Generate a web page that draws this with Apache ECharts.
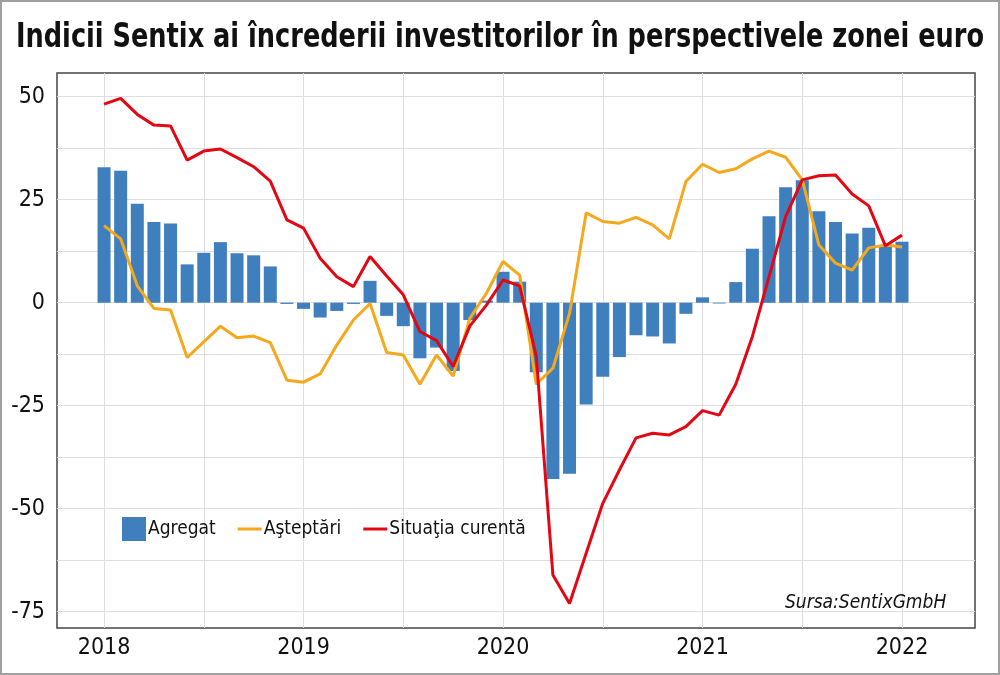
<!DOCTYPE html>
<html>
<head>
<meta charset="utf-8">
<script src="https://cdn.jsdelivr.net/npm/echarts@6/dist/echarts.min.js"></script>
<style>
html, body { margin: 0; padding: 0; background: #fff; }
#chart { width: 1000px; height: 675px; }
</style>
</head>
<body>
<div id="chart"></div>
<script>
// luni: ian 2018 .. ian 2022 (indice 0..48)
var months = [
    '2018-01', '2018-02', '2018-03', '2018-04', '2018-05', '2018-06', '2018-07', '2018-08', '2018-09', '2018-10', '2018-11', '2018-12',
    '2019-01', '2019-02', '2019-03', '2019-04', '2019-05', '2019-06', '2019-07', '2019-08', '2019-09', '2019-10', '2019-11', '2019-12',
    '2020-01', '2020-02', '2020-03', '2020-04', '2020-05', '2020-06', '2020-07', '2020-08', '2020-09', '2020-10', '2020-11', '2020-12',
    '2021-01', '2021-02', '2021-03', '2021-04', '2021-05', '2021-06', '2021-07', '2021-08', '2021-09', '2021-10', '2021-11', '2021-12',
    '2022-01'
];
var agregat = [
    32.9, 32.0, 24.0, 19.6, 19.2, 9.3, 12.1, 14.7, 12.0, 11.5, 8.8, -0.3,
    -1.5, -3.6, -2.0, -0.3, 5.3, -3.2, -5.7, -13.5, -10.9, -16.6, -4.2, 0.5,
    7.5, 5.1, -16.9, -42.8, -41.5, -24.7, -18.0, -13.2, -7.9, -8.2, -9.9, -2.7,
    1.3, -0.2, 5.0, 13.1, 21.0, 28.0, 29.7, 22.2, 19.6, 16.8, 18.2, 14.0,
    14.8
];
var asteptari = [
    18.7, 15.5, 4.1, -1.4, -1.8, -13.3, -9.5, -5.7, -8.5, -8.1, -9.7, -18.8,
    -19.3, -17.3, -10.3, -4.2, -0.2, -12.1, -12.7, -19.8, -12.7, -17.8, -3.8, 2.3,
    10.0, 6.7, -19.8, -15.9, -2.6, 21.8, 19.7, 19.3, 20.7, 18.9, 15.5, 29.4,
    33.6, 31.6, 32.5, 34.9, 36.8, 35.3, 29.8, 14.0, 9.6, 7.9, 13.3, 14.0,
    13.5
];
var situatia = [
    48.2, 49.6, 45.7, 43.1, 42.9, 34.6, 36.8, 37.3, 35.2, 33.0, 29.5, 20.1,
    18.1, 10.8, 6.3, 3.9, 11.2, 6.5, 1.9, -7.0, -9.2, -15.5, -5.7, -0.6,
    5.5, 4.1, -13.0, -66.1, -73.0, -60.8, -48.7, -40.6, -32.8, -31.7, -32.1, -30.1,
    -26.2, -27.3, -19.8, -8.2, 6.3, 20.9, 29.8, 30.8, 31.0, 26.4, 23.5, 13.8,
    16.4
];
var yearTicks = [0, 12, 24, 36, 48];
var yearLabels = ['2018', '2019', '2020', '2021', '2022'];
var halfYearTicks = [0, 6, 12, 18, 24, 30, 36, 42, 48];
var yLabelValues = [-75, -50, -25, 0, 25, 50];
var yGridValues = [-75, -62.5, -50, -37.5, -25, -12.5, 0, 12.5, 25, 37.5, 50];

var titleText = 'Indicii Sentix ai încrederii investitorilor în perspectivele zonei euro';
var fontNarrow = "'Liberation Sans Narrow', 'DejaVu Sans Condensed', 'Noto Sans', sans-serif";
var lineIcon = 'path://M0,0H24V3H0Z';

function pairs(arr) {
    var d = [];
    for (var i = 0; i < arr.length; i++) {
        d.push([i, arr[i]]);
    }
    return d;
}

// latimea titlului: il strangem pe orizontala ca sa incapa ca in original
var titleFont = 'bold 34px ' + fontNarrow;
var ctx = document.createElement('canvas').getContext('2d');
ctx.font = titleFont;
var titleScale = 968 / ctx.measureText(titleText).width;

var chart = echarts.init(document.getElementById('chart'));

var option = {
    backgroundColor: '#fff',
    animation: false,
    title: {
        text: 'Sursa:SentixGmbH',
        left: 780,
        top: 589,
        textStyle: {
            fontFamily: fontNarrow,
            fontStyle: 'italic',
            fontWeight: 'normal',
            fontSize: 19,
            color: '#111'
        }
    },
    graphic: [
        {
            type: 'rect',
            shape: {x: 1, y: 1, width: 998, height: 673},
            style: {fill: 'none', stroke: '#a0a0a0', lineWidth: 2},
            silent: true
        },
        {
            type: 'text',
            x: 16,
            y: 21,
            scaleX: titleScale,
            style: {
                text: titleText,
                font: titleFont,
                fill: '#111',
                verticalAlign: 'top'
            }
        }
    ],
    legend: {
        left: 117,
        top: 512,
        itemWidth: 24,
        itemHeight: 24,
        itemGap: 22,
        symbolKeepAspect: true,
        textStyle: {fontFamily: fontNarrow, fontSize: 19, color: '#111', padding: [0, 0, 0, -3]},
        data: [
            {name: 'Agregat', icon: 'rect'},
            {name: 'Aşteptări', icon: lineIcon},
            {name: 'Situaţia curentă', icon: lineIcon}
        ]
    },
    grid: {
        left: 57,
        top: 73,
        right: 25,
        bottom: 47,
        show: true,
        borderColor: '#444',
        borderWidth: 1.5,
        backgroundColor: '#fff'
    },
    xAxis: {
        type: 'value',
        min: -2.83,
        max: 52.39,
        axisLine: {show: false},
        axisTick: {show: false, customValues: halfYearTicks},
        axisLabel: {
            customValues: yearTicks,
            margin: 9,
            fontFamily: fontNarrow,
            fontSize: 23,
            color: '#111',
            formatter: function (v) {
                return yearLabels[Math.round(v / 12)];
            }
        },
        splitLine: {show: true, lineStyle: {color: '#dedede', width: 1}}
    },
    yAxis: {
        type: 'value',
        min: -78.96,
        max: 55.75,
        axisLine: {show: false},
        axisTick: {show: false, customValues: yGridValues},
        axisLabel: {
            customValues: yLabelValues,
            margin: 12,
            fontFamily: fontNarrow,
            fontSize: 23,
            color: '#111'
        },
        splitLine: {show: true, lineStyle: {color: '#dedede', width: 1}}
    },
    series: [
        {
            name: 'Agregat',
            type: 'bar',
            barWidth: 13,
            itemStyle: {color: '#3f7fbe'},
            data: pairs(agregat)
        },
        {
            name: 'Aşteptări',
            type: 'line',
            symbol: 'none',
            lineStyle: {color: '#f5a81c', width: 3},
            itemStyle: {color: '#f5a81c'},
            data: pairs(asteptari)
        },
        {
            name: 'Situaţia curentă',
            type: 'line',
            symbol: 'none',
            lineStyle: {color: '#e30613', width: 3},
            itemStyle: {color: '#e30613'},
            data: pairs(situatia)
        }
    ]
};

chart.setOption(option);
</script>
</body>
</html>
